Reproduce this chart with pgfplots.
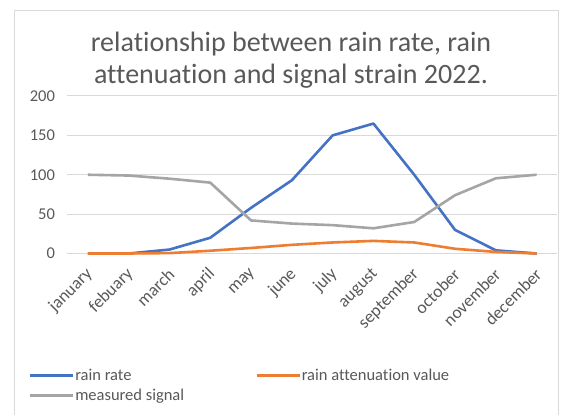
\documentclass[border=0pt]{standalone}
\usepackage{fontspec}
\setmainfont{Carlito}[Ligatures=NoCommon]
\usepackage{pgfplots}
\pgfplotsset{compat=1.18}

\definecolor{rainblue}{HTML}{4472C4}
\definecolor{attorange}{HTML}{ED7D31}
\definecolor{siggray}{HTML}{A5A5A5}
\definecolor{gridgray}{HTML}{D9D9D9}
\definecolor{textgray}{HTML}{595959}

% monthly values
\pgfplotstableread{
m  rate  att  signal
0  0     0    100
1  0     0    99
2  5     0.5  95
3  20    3.5  90
4  58    7    42
5  93    11   38
6  150   14   36
7  165   16   32
8  100   14   40
9  30    6    74
10 4     2    95.5
11 0     0    100
}\raindata

\begin{document}
\begin{tikzpicture}[x=1pt,y=1pt]
\useasboundingbox (0,0) rectangle (563,415);
\fill[white] (0,0) rectangle (563,415);
% chart area frame
\draw[gridgray, line width=0.8pt] (14,0) -- (14,405) -- (558,405) -- (558,0);

\begin{axis}[
  at={(67.5pt,161.5pt)}, anchor=south west,
  scale only axis, width=489.5pt, height=157.5pt,
  xmin=-0.5, xmax=11.5, ymin=0, ymax=200,
  clip=false,
  axis line style={draw=none},
  major tick length=0pt,
  ytick={0,50,100,150,200},
  ymajorgrids, grid style={gridgray, line width=1pt},
  xtick={0,...,11},
  xticklabels={january,febuary,march,april,may,june,july,august,september,october,november,december},
  /pgf/number format/assume math mode=true,
  tick label style={font=\fontsize{16.5}{19}\selectfont, text=textgray},
  yticklabel style={anchor=east, xshift=-9pt},
  xticklabel style={font=\fontsize{17.5}{20}\selectfont, xshift=2pt, yshift=-18pt, rotate=45, anchor=east, inner sep=0pt},
  legend columns=2,
  legend cell align=left,
  legend style={
    at={(axis description cs:-0.0787,-0.73)}, anchor=north west,
    draw=none, fill=none, inner sep=0pt,
    font=\fontsize{16.5}{19}\selectfont, text=textgray,
    nodes={inner sep=0.5pt},
    row sep=6pt,
    /tikz/every even column/.append style={column sep=71pt},
  },
  legend image code/.code={\draw[#1] (0pt,0pt) -- (43pt,0pt);},
  every axis plot/.append style={line width=2.6pt, line join=round, no marks},
]
\addplot[rainblue] table[x=m, y=rate] {\raindata};
\addlegendentry{rain rate}
\addplot[attorange] table[x=m, y=att] {\raindata};
\addlegendentry{rain attenuation value}
\addplot[siggray] table[x=m, y=signal] {\raindata};
\addlegendentry{measured signal}
\end{axis}

\node[anchor=base, align=center, text=textgray,
      font=\fontsize{28}{31.6}\selectfont] at (291,331.7)
  {relationship between rain rate, rain\\attenuation and signal strain 2022.};
\end{tikzpicture}
\end{document}
